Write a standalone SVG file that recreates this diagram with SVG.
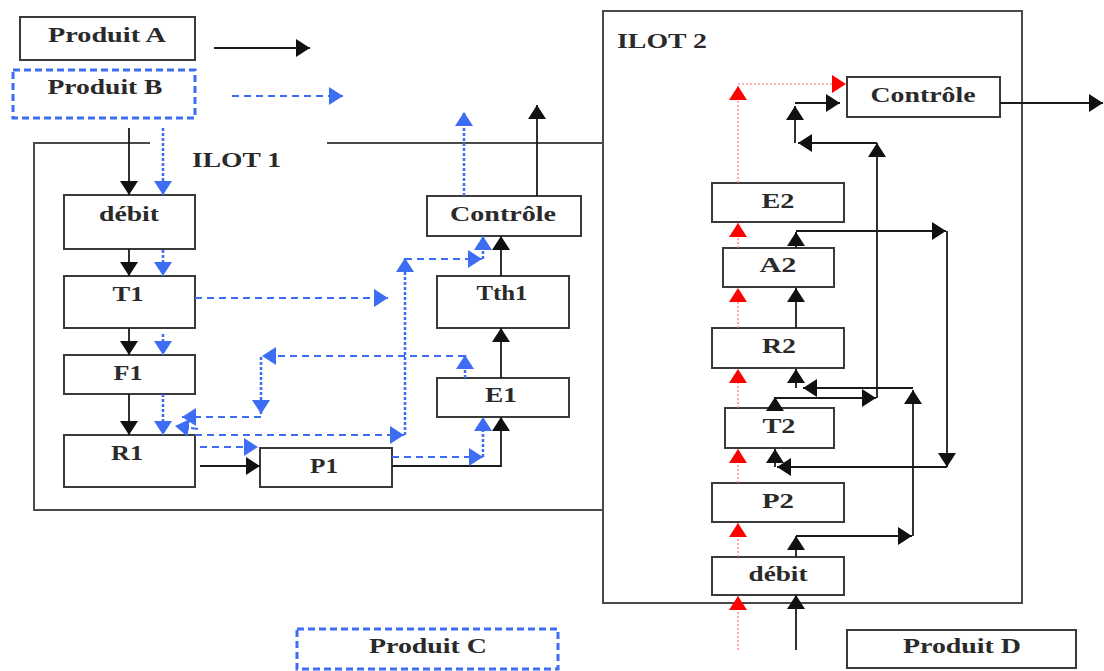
<svg xmlns="http://www.w3.org/2000/svg" width="1104" height="671" viewBox="0 0 1104 671">
<style>
.box{fill:#fff;stroke:#3a3a3a;stroke-width:2}
.frame{fill:none;stroke:#4a4a4a;stroke-width:2}
.bbox{fill:#fff;stroke:#3d6df2;stroke-width:3;stroke-dasharray:7 4}
.t{font-family:"Liberation Serif","Times New Roman",serif;font-weight:bold;font-size:20px;fill:#2a2a2a;text-anchor:middle}
.ts{text-anchor:start}
.k{fill:none;stroke:#1a1a1a;stroke-width:1.8;marker-end:url(#ak)}
.kl{fill:none;stroke:#1a1a1a;stroke-width:1.8}
.bd{fill:none;stroke:#3d6df2;stroke-width:2;stroke-dasharray:7 5;marker-end:url(#ab)}
.bt{fill:none;stroke:#3d6df2;stroke-width:2.5;stroke-dasharray:3 2;marker-end:url(#ab)}
.r{fill:none;stroke:#ff7070;stroke-width:1.2;stroke-dasharray:2 2;marker-end:url(#ar)}
</style>
<defs>
<marker id="ak" markerUnits="userSpaceOnUse" viewBox="0 0 14 18" markerWidth="14" markerHeight="18" refX="14" refY="9" orient="auto"><path d="M0,0 L14,9 L0,18 z" fill="#111"/></marker>
<marker id="ab" markerUnits="userSpaceOnUse" viewBox="0 0 14 18" markerWidth="14" markerHeight="18" refX="14" refY="9" orient="auto"><path d="M0,0 L14,9 L0,18 z" fill="#3d6df2"/></marker>
<marker id="ar" markerUnits="userSpaceOnUse" viewBox="0 0 14 18" markerWidth="14" markerHeight="18" refX="14" refY="9" orient="auto"><path d="M0,0 L14,9 L0,18 z" fill="#ff0000"/></marker>
</defs>
<rect width="1104" height="671" fill="#fff"/>

<g id="ilot1">
<path class="frame" d="M150,143 H34 V510 H603 M327,143 H603"/>
<text class="t ts" x="192" y="167" textLength="89" lengthAdjust="spacingAndGlyphs">ILOT 1</text>
</g>
<g id="ilot2">
<rect class="frame" x="603" y="11" width="419" height="592"/>
<text class="t ts" x="617" y="48" textLength="90" lengthAdjust="spacingAndGlyphs">ILOT 2</text>
</g>

<g id="produitA"><rect class="box" x="20" y="17" width="175" height="43"/><text class="t" x="107" y="42" textLength="118" lengthAdjust="spacingAndGlyphs">Produit A</text></g>
<g id="produitB"><rect class="bbox" x="13" y="70" width="182" height="48"/><text class="t" x="105" y="94" textLength="115" lengthAdjust="spacingAndGlyphs">Produit B</text></g>
<g id="produitC"><rect class="bbox" x="297" y="629" width="261" height="40"/><text class="t" x="428" y="653" textLength="118" lengthAdjust="spacingAndGlyphs">Produit C</text></g>
<g id="produitD"><rect class="box" x="847" y="630" width="229" height="38"/><text class="t" x="962" y="653" textLength="118" lengthAdjust="spacingAndGlyphs">Produit D</text></g>

<g id="debit1"><rect class="box" x="64" y="195" width="131" height="54"/><text class="t" x="129" y="221" textLength="60" lengthAdjust="spacingAndGlyphs">débit</text></g>
<g id="T1"><rect class="box" x="64" y="276" width="131" height="52"/><text class="t" x="128" y="301" textLength="31" lengthAdjust="spacingAndGlyphs">T1</text></g>
<g id="F1"><rect class="box" x="64" y="355" width="131" height="39"/><text class="t" x="128" y="380" textLength="29" lengthAdjust="spacingAndGlyphs">F1</text></g>
<g id="R1"><rect class="box" x="64" y="435" width="131" height="52"/><text class="t" x="127" y="460" textLength="32" lengthAdjust="spacingAndGlyphs">R1</text></g>
<g id="P1"><rect class="box" x="260" y="448" width="132" height="39"/><text class="t" x="324" y="473" textLength="28" lengthAdjust="spacingAndGlyphs">P1</text></g>
<g id="E1"><rect class="box" x="437" y="378" width="132" height="39"/><text class="t" x="501" y="402" textLength="32" lengthAdjust="spacingAndGlyphs">E1</text></g>
<g id="Tth1"><rect class="box" x="437" y="276" width="132" height="52"/><text class="t" x="502" y="300" textLength="51" lengthAdjust="spacingAndGlyphs">Tth1</text></g>
<g id="controle1"><rect class="box" x="427" y="196" width="154" height="40"/><text class="t" x="503" y="221" textLength="106" lengthAdjust="spacingAndGlyphs">Contrôle</text></g>

<g id="controle2"><rect class="box" x="847" y="77" width="153" height="40"/><text class="t" x="923" y="102" textLength="105" lengthAdjust="spacingAndGlyphs">Contrôle</text></g>
<g id="E2"><rect class="box" x="712" y="183" width="132" height="39"/><text class="t" x="778" y="208" textLength="33" lengthAdjust="spacingAndGlyphs">E2</text></g>
<g id="A2"><rect class="box" x="723" y="248" width="111" height="39"/><text class="t" x="778" y="272" textLength="37" lengthAdjust="spacingAndGlyphs">A2</text></g>
<g id="R2"><rect class="box" x="712" y="328" width="132" height="40"/><text class="t" x="779" y="353" textLength="34" lengthAdjust="spacingAndGlyphs">R2</text></g>
<g id="T2"><rect class="box" x="725" y="408" width="109" height="40"/><text class="t" x="779" y="433" textLength="33" lengthAdjust="spacingAndGlyphs">T2</text></g>
<g id="P2"><rect class="box" x="712" y="483" width="132" height="39"/><text class="t" x="778" y="508" textLength="32" lengthAdjust="spacingAndGlyphs">P2</text></g>
<g id="debit2"><rect class="box" x="712" y="557" width="132" height="38"/><text class="t" x="778" y="581" textLength="59" lengthAdjust="spacingAndGlyphs">débit</text></g>

<g id="connectors">
<!-- legend -->
<path class="k" d="M214,48 H310"/>
<path class="bd" d="M232,96 H343"/>
<!-- ILOT 1 black -->
<path class="k" d="M129,128 V195"/>
<path class="k" d="M129,249 V276"/>
<path class="k" d="M129,328 V355"/>
<path class="k" d="M129,394 V435"/>
<path class="k" d="M200,466 H260"/>
<path class="k" d="M392,466 H501 V417"/>
<path class="k" d="M501,378 V328"/>
<path class="k" d="M501,276 V236"/>
<path class="k" d="M537,196 V105"/>
<!-- ILOT 1 blue -->
<path class="bt" d="M163,128 V195"/>
<path class="bt" d="M163,250 V276"/>
<path class="bt" d="M163,334 V355"/>
<path class="bt" d="M163,394 V435"/>
<path class="bd" d="M200,447 H258"/>
<path class="bd" d="M195,298 H388"/>
<path class="bd" d="M392,457 H483"/>
<path class="bt" d="M483,457 V417"/>
<path class="bt" d="M465,378 V355"/>
<path class="bd" d="M465,356 H262"/>
<path class="bt" d="M261,357 V414"/>
<path class="bd" d="M261,417 H182"/>
<path class="bd" d="M195,435 H404"/>
<path class="bd" d="M198,429 L175,426"/>
<path class="bt" d="M405,435 V258"/>
<path class="bd" d="M405,259 H482"/>
<path class="bt" d="M483,259 V236"/>
<path class="bt" d="M464,196 V112"/>
<!-- ILOT 2 red -->
<path class="r" d="M738,650 V596"/>
<path class="r" d="M738,557 V523"/>
<path class="r" d="M738,483 V449"/>
<path class="r" d="M738,408 V369"/>
<path class="r" d="M738,328 V288"/>
<path class="r" d="M738,248 V223"/>
<path class="r" d="M738,183 V86"/>
<path class="r" d="M738,84 H846"/>
<!-- ILOT 2 black -->
<path class="k" d="M1000,103 H1103"/>
<path class="k" d="M796,650 V595"/>
<path class="k" d="M796,557 V536"/>
<path class="k" d="M796,536 H912"/>
<path class="k" d="M913,536 V390"/>
<path class="k" d="M913,388 H803"/>
<path class="k" d="M796,388 V369"/>
<path class="k" d="M775,408 V397"/>
<path class="k" d="M775,398 H876"/>
<path class="k" d="M877,398 V143"/>
<path class="k" d="M877,143 H798"/>
<path class="k" d="M795,143 V106"/>
<path class="k" d="M795,103 H840"/>
<path class="k" d="M796,328 V288"/>
<path class="k" d="M796,248 V232"/>
<path class="k" d="M796,231 H946"/>
<path class="k" d="M947,231 V467"/>
<path class="k" d="M947,467 H777"/>
<path class="k" d="M775,467 V449"/>
</g>
</svg>
